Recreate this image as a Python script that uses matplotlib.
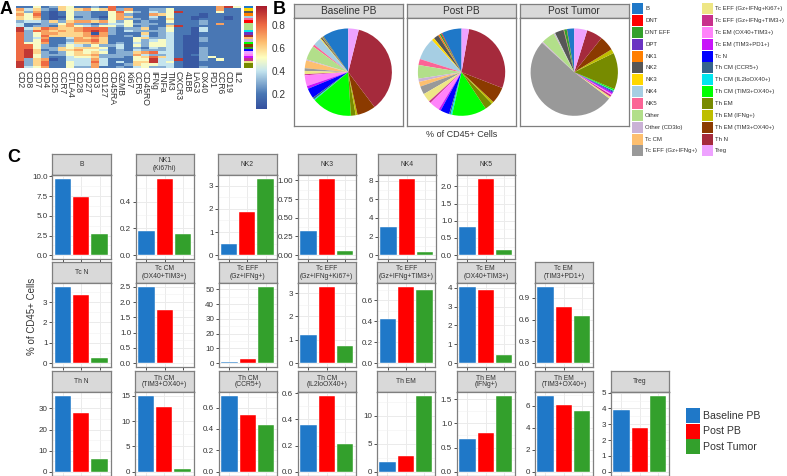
import matplotlib
matplotlib.use('Agg')
import matplotlib.pyplot as plt
import numpy as np
from matplotlib.colors import LinearSegmentedColormap
from matplotlib.patches import Rectangle

W, H = 787, 476
plt.rcParams['font.family'] = ['Liberation Sans', 'DejaVu Sans']

markers = ['CD2', 'CD8', 'CD7', 'CD4', 'CD25', 'CCR7', 'CTLA4', 'CD28', 'CD27', 'CD3', 'CD127',
           'CD45RA', 'GZMB', 'Ki67', 'CCR5', 'CD45RO', 'IFNg', 'TNFa', 'TIM3', 'CXCR3', '41BB',
           'LAG3', 'OX40', 'PD1', 'CCR6', 'CD19', 'IL2']

# heatmap values in tenths, read by eye
heat_values = [
    [2,2,5,2,3,6,5,2,2,3,2,8,2,2,2,2,2,2,2,2,2,2,2,2,7,9,5],
    [7,4,6,3,2,6,5,6,7,5,6,8,3,7,2,2,3,3,5,2,2,2,2,2,7,2,2],
    [6,3,7,2,1,2,5,3,3,2,2,5,8,5,3,2,4,3,5,9,2,2,2,2,5,2,2],
    [7,5,8,2,1,2,5,3,3,2,2,5,7,3,2,2,7,6,5,2,2,2,1,2,2,2,2],
    [6,5,7,2,1,1,5,2,3,2,1,5,7,6,2,2,4,2,5,2,2,1,1,2,2,1,2],
    [6,5,6,2,1,2,5,3,3,3,2,5,7,3,3,2,3,2,6,2,2,1,2,2,2,1,2],
    [3,4,4,3,6,3,6,7,7,6,7,5,3,5,2,3,2,2,5,2,2,2,3,2,2,2,2],
    [4,2,2,3,3,5,7,3,3,2,3,4,4,5,3,3,3,2,3,2,2,2,3,2,7,2,2],
    [4,2,3,3,2,6,7,5,4,3,5,5,3,5,2,3,2,2,6,9,2,2,2,2,2,2,2],
    [9,4,6,8,7,6,6,7,8,8,8,3,2,3,3,6,2,3,5,2,2,1,4,2,2,2,2],
    [9,3,8,7,6,7,6,7,8,9,8,3,2,4,3,3,3,3,5,2,2,1,4,2,2,2,2],
    [8,3,5,7,7,6,6,6,7,1,7,3,2,2,2,6,2,3,4,2,2,1,2,2,2,2,2],
    [8,3,5,8,6,6,6,6,7,8,7,2,2,3,2,4,2,3,4,2,1,1,2,2,2,2,2],
    [8,3,4,7,2,2,4,7,6,7,6,2,2,2,5,6,3,3,4,2,1,1,3,2,2,2,2],
    [8,3,5,8,2,2,3,7,7,8,6,2,2,2,5,3,4,5,4,2,1,1,3,2,2,2,2],
    [8,5,5,7,2,2,4,6,6,7,6,2,3,2,4,3,5,5,4,2,1,1,2,2,2,2,2],
    [8,8,5,3,2,3,5,4,3,5,3,3,4,2,5,3,5,5,4,2,1,1,2,2,2,2,2],
    [8,8,5,3,3,6,5,6,6,6,5,2,4,2,3,2,4,3,4,2,1,1,3,2,2,2,2],
    [8,9,6,2,3,6,6,7,5,5,4,2,3,2,4,3,3,3,4,2,1,1,3,2,2,2,2],
    [8,9,6,3,2,3,5,6,5,6,5,2,3,3,6,7,8,4,4,2,1,1,3,2,2,2,2],
    [8,9,5,3,3,3,5,6,6,7,3,3,3,3,7,4,3,3,4,2,1,2,3,2,2,2,2],
    [8,9,5,3,2,2,4,5,5,6,3,3,3,2,5,6,8,6,4,2,1,1,3,5,2,2,2],
    [8,3,6,7,1,2,4,4,4,7,4,2,2,2,5,5,9,4,4,9,1,1,3,2,5,2,2],
    [9,3,6,8,2,2,5,4,4,8,4,2,4,2,6,6,9,4,5,2,1,1,2,2,2,2,2],
    [9,3,6,8,2,2,5,4,4,7,4,2,2,3,6,5,5,4,4,2,1,1,2,2,2,2,2],
    [9,4,5,7,2,2,5,3,3,7,2,2,3,2,4,5,3,3,4,2,1,1,3,2,2,2,2],
]

cell_types = ['B', 'DNT', 'DNT EFF', 'DPT', 'NK1', 'NK2', 'NK3', 'NK4', 'NK5', 'Other', 'Other (CD3lo)',
              'Tc CM', 'Tc EFF (Gz+IFNg+)', 'Tc EFF (Gz+IFNg+Ki67+)', 'Tc EFF (Gz+IFNg+TIM3+)',
              'Tc EM (OX40+TIM3+)', 'Tc EM (TIM3+PD1+)', 'Tc N', 'Th CM (CCR5+)', 'Th CM (IL2loOX40+)',
              'Th CM (TIM3+OX40+)', 'Th EM', 'Th EM (IFNg+)', 'Th EM (TIM3+OX40+)', 'Th N', 'Treg']
type_colors = ['#1F78C8', '#FF0000', '#33A02C', '#6A33C2', '#FF7F00', '#565656', '#FFD700', '#A6CEE3',
               '#FB6496', '#B2DF8A', '#CAB2D6', '#FDBF6F', '#999999', '#EEE685', '#C8308C', '#FF83FA',
               '#C814FA', '#0000FF', '#36648B', '#00E5EE', '#00FF00', '#778B00', '#BEBE00', '#8B3A00',
               '#A52A3C', '#EEA2FF']

row_types = ['B', 'NK3', 'NK2', 'NK1', 'NK4', 'NK5', 'DNT', 'Other', 'Other', 'Other',
             'Th CM (IL2loOX40+)', 'DPT', 'Th N', 'Tc CM', 'Other (CD3lo)', 'Th CM (TIM3+OX40+)',
             'Th EM (TIM3+OX40+)', 'DNT EFF', 'Tc N', 'Treg', 'Tc EM (OX40+TIM3+)', 'Tc EM (TIM3+PD1+)',
             'Tc EFF (Gz+IFNg+TIM3+)', 'Tc EFF (Gz+IFNg+Ki67+)', 'Th EM', 'Th EM']

groups = ['Baseline PB', 'Post PB', 'Post Tumor']
group_colors = ['#1F78C8', '#FF0000', '#33A02C']

# pie shares, same order as cell_types
pie_baseline = [9.7, 0.1, 0.3, 0.1, 0.18, 0.5, 0.32, 3.05, 0.82, 5.3, 0.4, 2.9, 1.0, 1.2, 0.42, 4.05,
                1.05, 3.75, 0.7, 0.36, 15.0, 1.8, 0.67, 6.9, 36.0, 3.9]
pie_post = [7.4, 0.3, 0.6, 0.1, 0.57, 1.85, 1.02, 8.2, 2.22, 5.0, 1.2, 1.75, 3.0, 3.27, 0.73, 3.87,
            0.77, 3.35, 0.53, 0.58, 12.7, 2.9, 0.8, 6.05, 28.0, 2.75]
pie_tumor = [2.7, 0.1, 1.0, 0.05, 0.16, 3.3, 0.05, 0.35, 0.15, 5.0, 0.4, 0.05, 51.8, 0.75, 0.7, 0.42,
             0.65, 0.27, 0.43, 0.21, 0.5, 13.6, 1.57, 5.55, 6.0, 4.8]
pie_values = [pie_baseline, pie_post, pie_tumor]

# bar panels, one row of lists per row of the figure
row1_names = ['B', 'NK1\n(Ki67hi)', 'NK2', 'NK3', 'NK4', 'NK5']
row1_values = [[9.7, 7.4, 2.7], [0.18, 0.57, 0.16], [0.5, 1.85, 3.3], [0.32, 1.02, 0.05],
               [3.05, 8.2, 0.35], [0.82, 2.22, 0.15]]
row1_ticks = [['0.0', '2.5', '5.0', '7.5', '10.0'], ['0.0', '0.2', '0.4'], ['0', '1', '2', '3'],
              ['0.00', '0.25', '0.50', '0.75', '1.00'], ['0', '2', '4', '6', '8'],
              ['0.0', '0.5', '1.0', '1.5', '2.0']]

row2_names = ['Tc N', 'Tc CM\n(OX40+TIM3+)', 'Tc EFF\n(Gz+IFNg+)', 'Tc EFF\n(Gz+IFNg+Ki67+)',
              'Tc EFF\n(Gz+IFNg+TIM3+)', 'Tc EM\n(OX40+TIM3+)', 'Tc EM\n(TIM3+PD1+)']
row2_values = [[3.75, 3.35, 0.27], [2.5, 1.75, 0.0], [1.0, 3.0, 51.8], [1.2, 3.27, 0.75],
               [0.42, 0.73, 0.70], [4.05, 3.87, 0.42], [1.05, 0.77, 0.65]]
row2_ticks = [['0', '1', '2', '3'], ['0.0', '0.5', '1.0', '1.5', '2.0', '2.5'],
              ['0', '10', '20', '30', '40', '50'], ['0', '1', '2', '3'], ['0.0', '0.2', '0.4', '0.6'],
              ['0', '1', '2', '3', '4'], ['0.0', '0.3', '0.6', '0.9']]

row3_names = ['Th N', 'Th CM\n(TIM3+OX40+)', 'Th CM\n(CCR5+)', 'Th CM\n(IL2loOX40+)', 'Th EM',
              'Th EM\n(IFNg+)', 'Th EM\n(TIM3+OX40+)', 'Treg']
row3_values = [[36.0, 28.0, 6.0], [15.0, 12.7, 0.5], [0.71, 0.53, 0.435], [0.36, 0.58, 0.215],
               [1.8, 2.9, 13.6], [0.67, 0.8, 1.57], [6.9, 6.05, 5.55], [3.9, 2.75, 4.8]]
row3_ticks = [['0', '10', '20', '30'], ['0', '5', '10', '15'], ['0.0', '0.2', '0.4', '0.6'],
              ['0.0', '0.2', '0.4', '0.6'], ['0', '5', '10'], ['0.0', '0.5', '1.0', '1.5'],
              ['0', '2', '4', '6'], ['0', '1', '2', '3', '4', '5']]

row1_left = [52, 135.5, 218, 297.5, 377.5, 456.5]
row2_left = [52, 135.5, 218.5, 297.5, 377, 456.5, 534.5]
row3_left = [52, 135, 218.5, 297.5, 376.5, 456.5, 534.5, 610.5]

GREY = '#7F7F7F'
TXT = '#333333'


def px_axes(left, top, right, bottom):
    return fig.add_axes([left / W, 1 - bottom / H, (right - left) / W, (bottom - top) / H])


def draw_strip(left, top, right, bottom, label, size):
    ax = px_axes(left, top, right, bottom)
    ax.set_facecolor('#D9D9D9')
    ax.set_xticks([])
    ax.set_yticks([])
    for s in ax.spines.values():
        s.set_color(GREY)
        s.set_linewidth(0.9)
    ax.spines['bottom'].set_color('#333333')
    ax.text(0.5, 0.5, label, transform=ax.transAxes, ha='center', va='center', fontsize=size,
            color=TXT, linespacing=1.0)


def bar_panel(left, strip_top, strip_bottom, bottom, label, values, ticks):
    right = left + 58.5
    draw_strip(left, strip_top, right, strip_bottom, label, 4.9)
    ax = px_axes(left, strip_bottom, right, bottom)
    ax.bar([1, 2, 3], values, width=0.9, color=group_colors, edgecolor='#FFFFFF', linewidth=0.3, zorder=3)
    top = max(values)
    ax.set_xlim(0.4, 3.6)
    ax.set_ylim(-0.05 * top, 1.05 * top)
    ax.set_xticks([1, 2, 3])
    ax.set_xticklabels([])
    tick_pos = [float(t) for t in ticks]
    ax.set_yticks(tick_pos)
    ax.set_yticklabels(ticks)
    step = tick_pos[1] - tick_pos[0]
    minor = np.arange(tick_pos[0] + step / 2, 1.05 * top, step)
    ax.set_yticks(minor, minor=True)
    ax.grid(True, which='major', color='#EBEBEB', linewidth=0.7, zorder=0)
    ax.grid(True, which='minor', axis='y', color='#F2F2F2', linewidth=0.4, zorder=0)
    ax.tick_params(axis='both', which='major', length=2, width=0.6, color='#333333', labelsize=5.8,
                   labelcolor=TXT, pad=1.2)
    ax.tick_params(axis='y', which='minor', length=0)
    ax.set_axisbelow(True)
    for s in ax.spines.values():
        s.set_color(GREY)
        s.set_linewidth(0.9)


fig = plt.figure(figsize=(W / 100, H / 100), dpi=100)

# panel A
cmap = LinearSegmentedColormap.from_list('heat', [(0, '#35519F'), (0.146, '#4A78B5'), (0.37, '#C5E5EF'),
                                                  (0.5, '#FFFFBF'), (0.65, '#FDBE70'), (0.82, '#EE6A43'),
                                                  (1, '#A81C2C')])
heat = np.array(heat_values) / 10
ax = px_axes(16, 6, 241, 68)
ax.imshow(heat, aspect='auto', cmap=cmap, vmin=0.07, vmax=0.96, interpolation='nearest')
ax.set_yticks([])
ax.set_xticks(range(len(markers)))
ax.set_xticklabels(markers, rotation=270, fontsize=6.2, color=TXT)
ax.tick_params(axis='x', length=0, pad=2.5)
for s in ax.spines.values():
    s.set_visible(False)

ax = px_axes(244, 6, 253, 68)
for i, name in enumerate(row_types):
    ax.barh(i, 1, height=1, color=type_colors[cell_types.index(name)])
ax.set_xlim(0, 1)
ax.set_ylim(len(row_types) - 0.5, -0.5)
ax.axis('off')

ax = px_axes(256, 6, 267, 109)
scale = np.linspace(0.07, 0.96, 200).reshape(-1, 1)
ax.imshow(scale, aspect='auto', cmap=cmap, origin='lower', extent=[0, 1, 0.07, 0.96], vmin=0.07, vmax=0.96)
ax.set_xticks([])
ax.yaxis.tick_right()
ax.set_yticks([0.2, 0.4, 0.6, 0.8])
ax.tick_params(axis='y', length=0, labelsize=7.2, labelcolor=TXT, pad=3)
for s in ax.spines.values():
    s.set_visible(False)

# panel B
pie_left = [294, 407.3, 520]
for left, name, vals in zip(pie_left, groups, pie_values):
    draw_strip(left, 4.3, left + 108.5, 18, name, 7.3)
    ax = px_axes(left, 18, left + 108.5, 126.3)
    ax.pie(vals, colors=type_colors, startangle=90, counterclock=True, radius=1.0,
           wedgeprops={'linewidth': 0})
    ax.set_xlim(-1.243, 1.243)
    ax.set_ylim(-1.24, 1.24)
    ax.set_aspect('auto')
    ax.set_frame_on(True)
    ax.set_xticks([])
    ax.set_yticks([])
    for s in ax.spines.values():
        s.set_visible(True)
        s.set_color(GREY)
        s.set_linewidth(0.9)

fig.text(461.7 / W, 1 - 134.7 / H, '% of CD45+ Cells', ha='center', va='center', fontsize=6.5, color=TXT)

# pie legend, two columns of 13
overlay = fig.add_axes([0, 0, 1, 1], zorder=10)
overlay.set_xlim(0, W)
overlay.set_ylim(H, 0)
overlay.axis('off')
for i, (name, col) in enumerate(zip(cell_types, type_colors)):
    x = 632 if i < 13 else 702
    y = 8.7 + 11.85 * (i % 13)
    overlay.add_patch(Rectangle((x, y - 5.5), 11, 11, facecolor=col, edgecolor='none'))
    overlay.text(x + 13, y, name, ha='left', va='center', fontsize=4.3, color=TXT)

# panel C
for lefts, names, vals, ticks, tops in [
        (row1_left, row1_names, row1_values, row1_ticks, (154, 175, 259)),
        (row2_left, row2_names, row2_values, row2_ticks, (262, 283, 367)),
        (row3_left, row3_names, row3_values, row3_ticks, (371, 392, 475.5))]:
    for left, name, v, t in zip(lefts, names, vals, ticks):
        bar_panel(left, tops[0], tops[1], tops[2], name, v, t)

fig.text(32 / W, 1 - 316 / H, '% of CD45+ Cells', rotation=90, ha='center', va='center', fontsize=7.0, color=TXT)

# group legend
for i, (name, col) in enumerate(zip(groups, group_colors)):
    y = 408.3 + 15.5 * i
    overlay.add_patch(Rectangle((686, y), 14.3, 14.8, facecolor=col, edgecolor='none'))
    overlay.text(702.7, y + 7.4, name, ha='left', va='center', fontsize=7.6, color=TXT)

# panel letters
for letter, x, y in [('A', 0, 9), ('B', 273, 9), ('C', 7, 158)]:
    fig.text(x / W, 1 - y / H, letter, fontsize=13, fontweight='bold', color='black', ha='left', va='center')

fig.savefig('out.png', dpi=100)
